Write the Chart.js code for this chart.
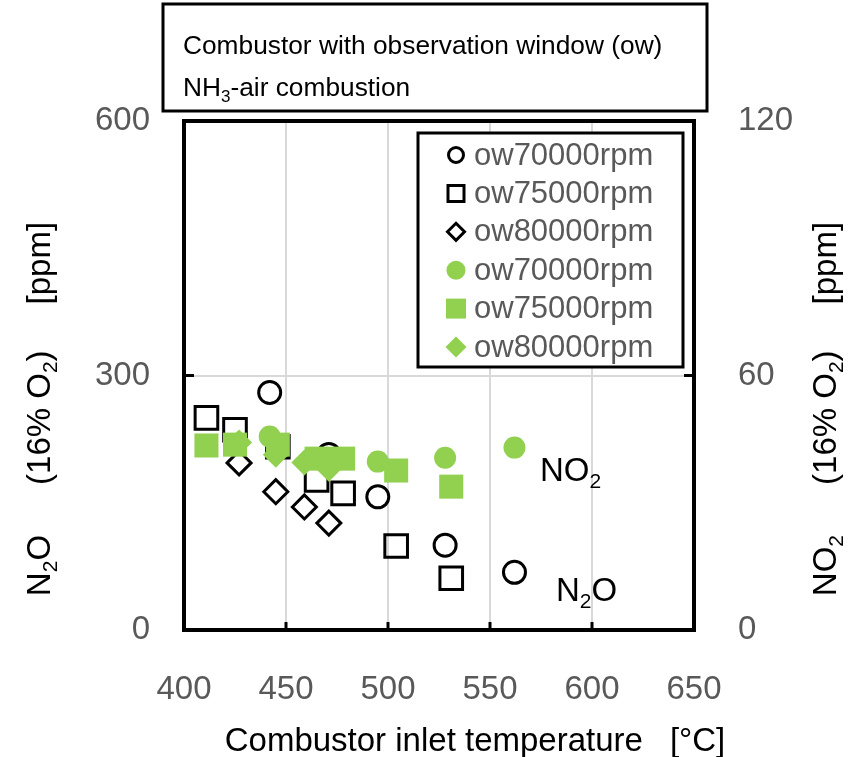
<!DOCTYPE html>
<html>
<head>
<meta charset="utf-8">
<script src="https://cdn.jsdelivr.net/npm/chart.js@4.4.1/dist/chart.umd.min.js"></script>
<style>
  html, body { margin: 0; padding: 0; background: #fff; }
  #wrap { width: 848px; height: 757px; }
</style>
</head>
<body>
<div id="wrap"><canvas id="noxGraph" width="848" height="757"></canvas></div>
<script>
// combustor inlet temperature [degC]
const temp70 = [442, 471, 495, 528, 562];
const temp75 = [411, 425, 446, 465, 478, 504, 531];
const temp80 = [427, 445, 459, 471];

// N2O [ppm] (left axis)
const n2o70 = [280, 207, 157, 100, 68];
const n2o75 = [250, 236, 216, 177, 161, 99, 61];
const n2o80 = [197, 163, 145, 126];

// NO2 [ppm] (right axis)
const no270 = [45.6, 40.6, 39.7, 40.6, 43];
const no275 = [43.5, 43.7, 43.7, 40.4, 40.4, 37.6, 33.8];
const no280 = [44.2, 41.3, 39.5, 38];

const seriesLabels = ["ow70000rpm", "ow75000rpm", "ow80000rpm"];
const xTickValues = [400, 450, 500, 550, 600, 650];

const GREEN = "#92D050";
const GRAY_TXT = "#595959";
const FONT = "'Liberation Sans', Arial, sans-serif";

const toPts = (xs, ys) => xs.map((x, i) => ({ x: x, y: ys[i] }));

function hollow(label, xs, ys, style, radius) {
  return {
    label: label,
    data: toPts(xs, ys),
    yAxisID: "y",
    pointStyle: style,
    pointRadius: radius,
    pointBorderWidth: 3,
    pointBorderColor: "#000",
    pointBackgroundColor: "rgba(0,0,0,0)",
    showLine: false,
    order: 2,
  };
}
function solid(label, xs, ys, style, radius) {
  return {
    label: label,
    data: toPts(xs, ys),
    yAxisID: "y2",
    pointStyle: style,
    pointRadius: radius,
    pointBorderWidth: 0,
    pointBorderColor: GREEN,
    pointBackgroundColor: GREEN,
    showLine: false,
    order: 1,
  };
}

// text with subscripts: parts = [[text, isSub]] or a number = gap in px
function partWidth(ctx, p, size) {
  if (typeof p === "number") return p;
  ctx.font = (p[1] ? Math.round(size * 0.65) : size) + "px " + FONT;
  return ctx.measureText(p[0]).width;
}
function drawRich(ctx, parts, x, y, size, color, align) {
  let w = 0;
  parts.forEach((p) => { w += partWidth(ctx, p, size); });
  let cx = align === "center" ? x - w / 2 : x;
  ctx.fillStyle = color;
  ctx.textBaseline = "alphabetic";
  ctx.textAlign = "left";
  parts.forEach((p) => {
    const pw = partWidth(ctx, p, size);
    if (typeof p !== "number") ctx.fillText(p[0], cx, p[1] ? y + size * 0.22 : y);
    cx += pw;
  });
}

function marker(ctx, style, x, y, r, fill, stroke) {
  ctx.beginPath();
  if (style === "circle") {
    ctx.arc(x, y, r, 0, Math.PI * 2);
  } else if (style === "rect") {
    ctx.rect(x - r, y - r, 2 * r, 2 * r);
  } else {
    ctx.moveTo(x, y - r);
    ctx.lineTo(x + r, y);
    ctx.lineTo(x, y + r);
    ctx.lineTo(x - r, y);
    ctx.closePath();
  }
  if (fill) { ctx.fillStyle = fill; ctx.fill(); }
  if (stroke) { ctx.strokeStyle = stroke; ctx.lineWidth = 3; ctx.stroke(); }
}

const decorPlugin = {
  id: "decor",
  afterDraw(chart) {
    const ctx = chart.ctx;
    const a = chart.chartArea;
    const xs = chart.scales.x, ys = chart.scales.y, ys2 = chart.scales.y2;
    ctx.save();

    // inward tick marks
    ctx.strokeStyle = "#000";
    ctx.lineWidth = 3;
    xTickValues.forEach((v) => {
      const px = xs.getPixelForValue(v);
      ctx.beginPath(); ctx.moveTo(px, a.bottom); ctx.lineTo(px, a.bottom - 8); ctx.stroke();
    });
    const py = ys.getPixelForValue(300);
    ctx.beginPath(); ctx.moveTo(a.left, py); ctx.lineTo(a.left + 10, py); ctx.stroke();
    const py2 = ys2.getPixelForValue(60);
    ctx.beginPath(); ctx.moveTo(a.right, py2); ctx.lineTo(a.right - 10, py2); ctx.stroke();

    // plot frame
    ctx.lineWidth = 4;
    ctx.strokeRect(a.left, a.top, a.right - a.left, a.bottom - a.top);

    // legend box
    const lx = 418, ly = 133, lw = 265, lh = 234;
    ctx.fillStyle = "#fff";
    ctx.fillRect(lx, ly, lw, lh);
    ctx.lineWidth = 3;
    ctx.strokeStyle = "#000";
    ctx.strokeRect(lx, ly, lw, lh);
    const rows = [
      ["circle", 7.5, null, "#000"],
      ["rect", 8, null, "#000"],
      ["rectRot", 8.5, null, "#000"],
      ["circle", 9.5, GREEN, null],
      ["rect", 10, GREEN, null],
      ["rectRot", 10.5, GREEN, null],
    ];
    rows.forEach((r, i) => {
      const cy = 155 + i * 38.4;
      marker(ctx, r[0], 456, cy, r[1], r[2], r[3]);
      ctx.font = "31px " + FONT;
      ctx.fillStyle = GRAY_TXT;
      ctx.textAlign = "left";
      ctx.textBaseline = "middle";
      ctx.fillText(seriesLabels[i % 3], 474, cy + 1);
    });

    // title box
    ctx.fillStyle = "#fff";
    ctx.fillRect(163, 4, 544, 107);
    ctx.strokeRect(163, 4, 544, 107);
    drawRich(ctx, [["Combustor with observation window (ow)", false]], 183, 54, 26.3, "#000", "left");
    drawRich(ctx, [["NH", false], ["3", true], ["-air combustion", false]], 183, 96, 26.3, "#000", "left");

    // series annotations
    drawRich(ctx, [["NO", false], ["2", true]], 540, 481, 33, "#000", "left");
    drawRich(ctx, [["N", false], ["2", true], ["O", false]], 556, 601, 33, "#000", "left");

    // axis titles
    drawRich(ctx, [["Combustor inlet temperature", false], 27, ["[\u00B0C]", false]], 475, 751, 33, "#000", "center");
    ctx.save();
    ctx.translate(50, 409);
    ctx.rotate(-Math.PI / 2);
    drawRich(ctx, [["N", false], ["2", true], ["O", false], 50, ["(16% O", false], ["2", true], [")", false], 46, ["[ppm]", false]], 0, 0, 33, "#000", "center");
    ctx.restore();
    ctx.save();
    ctx.translate(836, 409);
    ctx.rotate(-Math.PI / 2);
    drawRich(ctx, [["NO", false], ["2", true], 50, ["(16% O", false], ["2", true], [")", false], 46, ["[ppm]", false]], 0, 0, 33, "#000", "center");
    ctx.restore();

    ctx.restore();
  },
};

const canvas = document.querySelector("#noxGraph");
const noxChart = new Chart(canvas, {
  type: "scatter",
  data: {
    datasets: [
      hollow(seriesLabels[0], temp70, n2o70, "circle", 11),
      hollow(seriesLabels[1], temp75, n2o75, "rect", 16),
      hollow(seriesLabels[2], temp80, n2o80, "rectRot", 12),
      solid(seriesLabels[0], temp70, no270, "circle", 11),
      solid(seriesLabels[1], temp75, no275, "rect", 17),
      solid(seriesLabels[2], temp80, no280, "rectRot", 13),
    ],
  },
  options: {
    responsive: false,
    animation: false,
    layout: { padding: { top: 121, left: 0, right: 0, bottom: 0 } },
    scales: {
      x: {
        type: "linear",
        min: 400,
        max: 650,
        afterFit: (s) => { s.height = 127; },
        afterBuildTicks: (s) => { s.ticks = xTickValues.map((v) => ({ value: v })); },
        grid: { color: "#d9d9d9", lineWidth: 2, drawTicks: false },
        border: { display: false },
        ticks: {
          padding: 40,
          color: GRAY_TXT,
          font: { size: 33, family: FONT },
        },
      },
      y: {
        type: "linear",
        position: "left",
        min: 0,
        max: 600,
        afterFit: (s) => { s.width = 184; },
        grid: { color: "#d9d9d9", lineWidth: 2, drawTicks: false },
        border: { display: false },
        ticks: {
          stepSize: 300,
          padding: 34,
          color: GRAY_TXT,
          font: { size: 33, family: FONT },
        },
      },
      y2: {
        type: "linear",
        position: "right",
        min: 0,
        max: 120,
        afterFit: (s) => { s.width = 154; },
        grid: { display: false, drawTicks: false },
        border: { display: false },
        ticks: {
          stepSize: 60,
          padding: 44,
          color: GRAY_TXT,
          font: { size: 33, family: FONT },
        },
      },
    },
    plugins: {
      legend: { display: false },
      tooltip: { enabled: false },
    },
  },
  plugins: [decorPlugin],
});
</script>
</body>
</html>
